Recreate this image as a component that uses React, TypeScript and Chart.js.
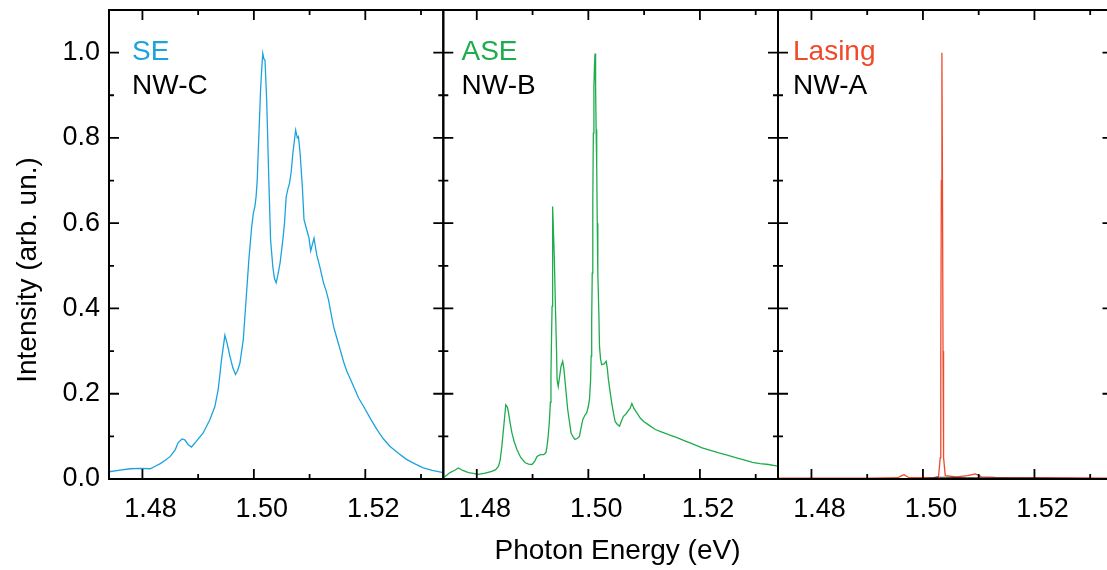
import { useEffect, useRef } from "react";
import { Chart, registerables } from "chart.js";

Chart.register(...registerables);

const FONT = '"Liberation Sans", Arial, Helvetica, sans-serif';

// ---- Data ----
const seEnergy = [
  1.474, 1.476, 1.4778, 1.4796, 1.4814, 1.4823, 1.4832, 1.4841, 1.485, 1.4859, 1.4864,
  1.4871, 1.4876, 1.4882, 1.4888, 1.4897, 1.4909, 1.4921, 1.493, 1.4936, 1.4942, 1.4948,
  1.4952, 1.4957, 1.4962, 1.4967, 1.4971, 1.4975, 1.4981, 1.4986, 1.4991, 1.4993, 1.4996,
  1.4999, 1.5002, 1.5004, 1.5006, 1.5008, 1.501, 1.5012, 1.5014, 1.5016, 1.5018, 1.502,
  1.5023, 1.5027, 1.503, 1.5034, 1.5037, 1.504, 1.5043, 1.5047, 1.5052, 1.5055, 1.5058,
  1.5061, 1.5064, 1.5067, 1.507, 1.5075, 1.5078, 1.508, 1.5083, 1.5087, 1.509, 1.5095,
  1.5099, 1.5102, 1.5105, 1.5108, 1.5111, 1.5113, 1.5118, 1.5125, 1.513, 1.5134, 1.5139,
  1.5143, 1.5149, 1.5155, 1.5161, 1.5167, 1.5173, 1.5179, 1.5188, 1.5197, 1.521, 1.5221,
  1.5232, 1.5244, 1.526, 1.5274, 1.529, 1.5304, 1.532, 1.534,
];
const seIntensity = [
  0.017, 0.021, 0.024, 0.025, 0.024, 0.03, 0.036, 0.044, 0.053, 0.069, 0.085,
  0.094, 0.092, 0.081, 0.075, 0.089, 0.108, 0.139, 0.17, 0.21, 0.28, 0.337,
  0.318, 0.288, 0.262, 0.245, 0.255, 0.272, 0.327, 0.42, 0.514, 0.545, 0.59,
  0.623, 0.64, 0.662, 0.7, 0.772, 0.84, 0.912, 0.96, 0.998, 0.985, 0.982,
  0.889, 0.694, 0.561, 0.498, 0.47, 0.46, 0.478, 0.506, 0.561, 0.6, 0.662,
  0.68, 0.694, 0.72, 0.764, 0.818, 0.8, 0.803, 0.764, 0.686, 0.608, 0.584,
  0.565, 0.535, 0.55, 0.565, 0.54, 0.525, 0.5, 0.46, 0.44, 0.42, 0.385,
  0.358, 0.33, 0.303, 0.275, 0.252, 0.235, 0.217, 0.19, 0.17, 0.14, 0.116,
  0.095, 0.077, 0.06, 0.046, 0.035, 0.026, 0.02, 0.015,
];

const aseEnergy = [
  1.474, 1.4746, 1.4752, 1.476, 1.4767, 1.4775, 1.4785, 1.4794, 1.4803, 1.4815, 1.4827,
  1.4834, 1.4839, 1.4842, 1.4845, 1.4849, 1.4852, 1.4855, 1.4857, 1.486, 1.4863, 1.4867,
  1.4872, 1.4879, 1.4887, 1.4893, 1.4899, 1.4904, 1.4908, 1.4914, 1.492, 1.4924, 1.4926,
  1.4928, 1.493, 1.4932, 1.4933, 1.4934, 1.4935, 1.4936, 1.4937, 1.4939, 1.4941, 1.4943,
  1.4944, 1.4946, 1.4949, 1.4951, 1.4954, 1.4956, 1.4958, 1.4963, 1.4969, 1.4973, 1.4976,
  1.498, 1.4984, 1.4987, 1.499, 1.4994, 1.4997, 1.5, 1.5002, 1.5004, 1.5005, 1.5006,
  1.5007, 1.5008, 1.5009, 1.501, 1.5011, 1.5012, 1.5013, 1.5014, 1.5015, 1.5016, 1.5017,
  1.5019, 1.502, 1.5022, 1.5024, 1.5028, 1.5032, 1.5034, 1.5036, 1.5039, 1.5042, 1.5045,
  1.5048, 1.5052, 1.5056, 1.5059, 1.5063, 1.5067, 1.5071, 1.5075, 1.5078, 1.5082, 1.5087,
  1.5093, 1.5099, 1.5108, 1.512, 1.5132, 1.5144, 1.5159, 1.5174, 1.5189, 1.5204, 1.5219,
  1.5234, 1.5249, 1.5264, 1.5279, 1.5294, 1.5308, 1.5323, 1.534,
];
const aseIntensity = [
  0.003, 0.009, 0.015, 0.02, 0.026, 0.02, 0.015, 0.013, 0.011, 0.014, 0.018,
  0.022, 0.03, 0.045, 0.077, 0.132, 0.174, 0.168, 0.155, 0.13, 0.108, 0.088,
  0.069, 0.05, 0.038, 0.035, 0.034, 0.042, 0.053, 0.057, 0.057, 0.062, 0.077,
  0.1, 0.132, 0.18, 0.249, 0.33, 0.405, 0.639, 0.6, 0.52, 0.405, 0.3,
  0.233, 0.217, 0.245, 0.264, 0.276, 0.26, 0.233, 0.163, 0.108, 0.098, 0.093,
  0.095, 0.1, 0.12, 0.139, 0.15, 0.155, 0.17, 0.186, 0.23, 0.288, 0.37,
  0.483, 0.65, 0.811, 0.92, 0.97, 0.998, 0.92, 0.82, 0.733, 0.6, 0.483,
  0.38, 0.311, 0.28, 0.268, 0.27, 0.276, 0.26, 0.233, 0.205, 0.178, 0.155,
  0.135, 0.128, 0.124, 0.135, 0.147, 0.152, 0.159, 0.166, 0.177, 0.165, 0.155,
  0.143, 0.135, 0.127, 0.116, 0.11, 0.104, 0.097, 0.089, 0.081, 0.073, 0.067,
  0.061, 0.056, 0.05, 0.045, 0.039, 0.036, 0.034, 0.03,
];

const lasingEnergy = [
  1.474, 1.49, 1.4955, 1.4962, 1.4966, 1.497, 1.4975, 1.502, 1.5028, 1.5031, 1.5032,
  1.5033, 1.5034, 1.5035, 1.5036, 1.5037, 1.504, 1.506, 1.508, 1.509, 1.5094, 1.5099,
  1.5105, 1.513, 1.534,
];
const lasingIntensity = [
  0.002, 0.002, 0.003, 0.008, 0.01, 0.007, 0.003, 0.003, 0.006, 0.05, 0.3,
  0.7, 1.0, 0.7, 0.3, 0.05, 0.008, 0.005, 0.008, 0.011, 0.012, 0.009,
  0.005, 0.004, 0.002,
];

const baseEnergy = [1.474, 1.5, 1.503, 1.504, 1.508, 1.534];
const baseIntensity = [0.001, 0.001, 0.004, 0.004, 0.003, 0.001];

const xTickLabels = [1.48, 1.5, 1.52];
const xMinorTicks = [1.48, 1.49, 1.5, 1.51, 1.52, 1.53];
const yTickLabels = [0, 0.2, 0.4, 0.6, 0.8, 1.0];
const yMinorTicks = [0, 0.1, 0.2, 0.3, 0.4, 0.5, 0.6, 0.7, 0.8, 0.9, 1.0, 1.1];
const X_MIN = 1.474;
const X_MAX = 1.534;
const Y_MIN = 0;
const Y_MAX = 1.1;

const W = 1120;
const H = 570;

type Series = { energy: number[]; intensity: number[]; color: string; width: number };
type PanelCfg = {
  left: number;
  right: number;
  series: Series[];
  tag: string;
  tagColor: string;
  name: string;
  textX: number;
  showY: boolean;
  showXTitle: boolean;
};

const BLUE = "#1ba3de";
const GREEN = "#1fac4d";
const RED = "#f04a2b";

const panels: PanelCfg[] = [
  {
    left: 109, right: 443.3,
    series: [{ energy: seEnergy, intensity: seIntensity, color: BLUE, width: 1.3 }],
    tag: "SE", tagColor: BLUE, name: "NW-C", textX: 132, showY: true, showXTitle: false,
  },
  {
    left: 443.3, right: 778,
    series: [{ energy: aseEnergy, intensity: aseIntensity, color: GREEN, width: 1.3 }],
    tag: "ASE", tagColor: GREEN, name: "NW-B", textX: 461.5, showY: false, showXTitle: true,
  },
  {
    left: 778, right: 1112.5,
    series: [
      { energy: baseEnergy, intensity: baseIntensity, color: "#333333", width: 1 },
      { energy: lasingEnergy, intensity: lasingIntensity, color: RED, width: 1.3 },
    ],
    tag: "Lasing", tagColor: RED, name: "NW-A", textX: 793, showY: false, showXTitle: false,
  },
];

function makeDecor(cfg: PanelCfg) {
  return {
    id: "decor",
    afterDraw(chart: any) {
      const { ctx, chartArea } = chart;
      const xs = chart.scales.x;
      const ys = chart.scales.y;
      const { left, right, top, bottom } = chartArea;
      ctx.save();
      ctx.strokeStyle = "#000";
      ctx.lineWidth = 1.8;
      ctx.beginPath();
      for (const v of yMinorTicks) {
        const y = ys.getPixelForValue(v);
        const major = Math.abs(Math.round(v * 10) % 2) === 0;
        const len = major ? 10 : 5;
        ctx.moveTo(left, y);
        ctx.lineTo(left + len, y);
        ctx.moveTo(right, y);
        ctx.lineTo(right - len, y);
      }
      for (const v of xMinorTicks) {
        const x = xs.getPixelForValue(v);
        const major = xTickLabels.some((t) => Math.abs(t - v) < 1e-6);
        const len = major ? 10 : 5;
        ctx.moveTo(x, top);
        ctx.lineTo(x, top + len);
        ctx.moveTo(x, bottom);
        ctx.lineTo(x, bottom - len);
      }
      ctx.stroke();
      ctx.lineWidth = 2;
      ctx.strokeRect(left, top, right - left, bottom - top);

      ctx.font = `28px ${FONT}`;
      ctx.textAlign = "left";
      ctx.textBaseline = "alphabetic";
      ctx.fillStyle = cfg.tagColor;
      ctx.fillText(cfg.tag, cfg.textX, 59.5);
      ctx.fillStyle = "#000";
      ctx.fillText(cfg.name, cfg.textX, 94);

      if (cfg.showXTitle) {
        ctx.textAlign = "center";
        ctx.fillText("Photon Energy (eV)", 617.5, 559);
      }
      if (cfg.showY) {
        ctx.save();
        ctx.translate(36, 270);
        ctx.rotate(-Math.PI / 2);
        ctx.textAlign = "center";
        ctx.fillText("Intensity (arb. un.)", 0, 0);
        ctx.restore();
      }
      ctx.restore();
    },
  };
}

function Panel({ cfg }: { cfg: PanelCfg }) {
  const ref = useRef<HTMLCanvasElement>(null);
  useEffect(() => {
    if (!ref.current) return;
    const yWidth = cfg.showY ? cfg.left : 0;
    const chart = new Chart(ref.current, {
      type: "line",
      data: {
        datasets: cfg.series.map((s) => ({
          data: s.energy.map((e, i) => ({ x: e, y: s.intensity[i] })),
          borderColor: s.color,
          borderWidth: s.width,
          pointRadius: 0,
          tension: 0,
          fill: false,
        })),
      },
      options: {
        animation: false,
        responsive: false,
        devicePixelRatio: 1,
        events: [],
        layout: {
          padding: {
            left: cfg.showY ? 0 : cfg.left,
            right: W - cfg.right,
            top: 10,
            bottom: 0,
          },
        },
        plugins: { legend: { display: false }, tooltip: { enabled: false } },
        scales: {
          x: {
            type: "linear",
            min: X_MIN,
            max: X_MAX,
            grid: { display: false, drawTicks: false },
            border: { display: false },
            afterBuildTicks: (scale: any) => {
              scale.ticks = xTickLabels.map((v) => ({ value: v }));
            },
            afterFit: (scale: any) => {
              scale.height = 91;
              scale.paddingLeft = 0;
              scale.paddingRight = 0;
            },
            ticks: {
              autoSkip: false,
              maxRotation: 0,
              padding: 14,
              labelOffset: 8,
              color: "#000",
              font: { family: FONT, size: 27 },
              callback: (v: any) => Number(v).toFixed(2),
            },
          },
          y: {
            type: "linear",
            min: Y_MIN,
            max: Y_MAX,
            display: cfg.showY,
            grid: { display: false, drawTicks: false },
            border: { display: false },
            afterBuildTicks: (scale: any) => {
              scale.ticks = yTickLabels.map((v) => ({ value: v }));
            },
            afterFit: (scale: any) => {
              scale.width = yWidth;
              scale.paddingTop = 0;
              scale.paddingBottom = 0;
            },
            ticks: {
              padding: 9,
              color: "#000",
              font: { family: FONT, size: 27 },
              callback: (v: any) => Number(v).toFixed(1),
            },
          },
        },
      },
      plugins: [makeDecor(cfg)],
    } as any);
    return () => chart.destroy();
  }, [cfg]);
  return (
    <canvas
      ref={ref}
      width={W}
      height={H}
      style={{ position: "absolute", left: 0, top: 0, width: W, height: H }}
    />
  );
}

export default function App() {
  return (
    <div
      style={{
        position: "absolute",
        left: 0,
        top: 0,
        width: 1107,
        height: 570,
        overflow: "hidden",
        background: "#fff",
      }}
    >
      {panels.map((p, i) => (
        <Panel key={i} cfg={p} />
      ))}
    </div>
  );
}
